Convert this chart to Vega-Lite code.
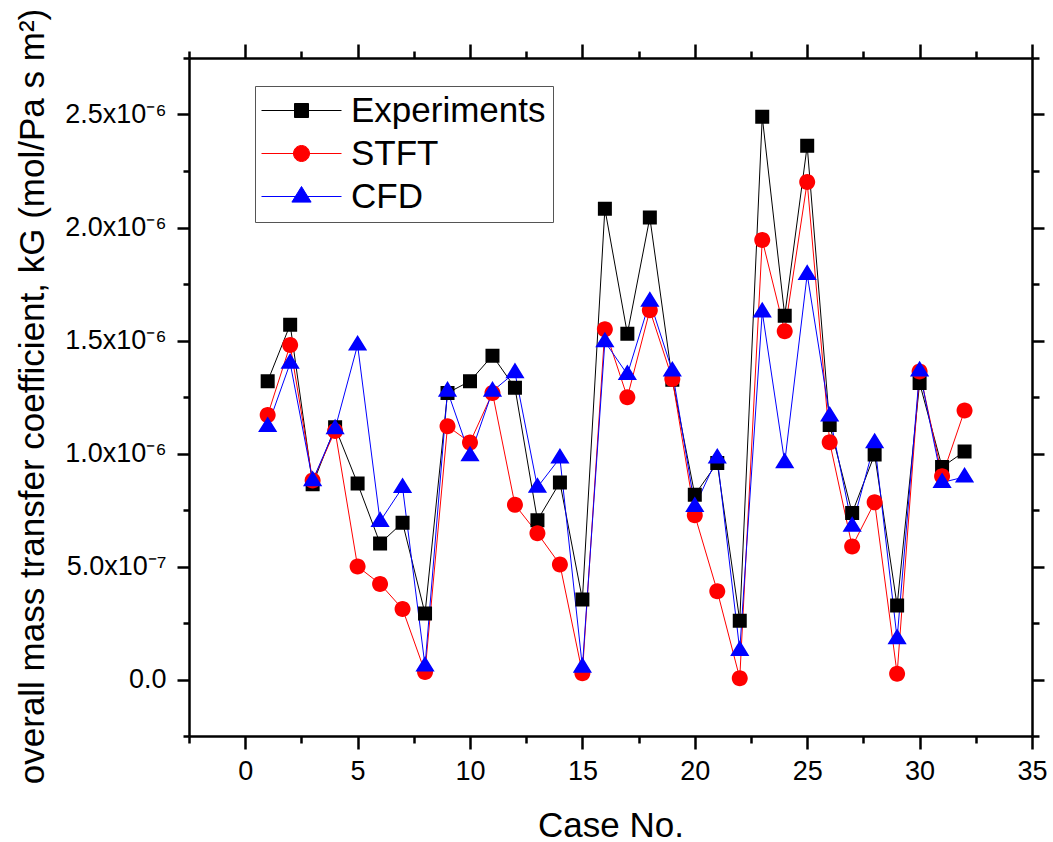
{
  "$schema": "https://vega.github.io/schema/vega-lite/v6.json",
  "width": 843,
  "height": 678,
  "autosize": {"type": "none"},
  "padding": {"left": 189, "top": 58, "right": 21, "bottom": 106},
  "background": "white",
  "config": {
    "view": {"stroke": null},
    "axis": {
      "grid": false,
      "domainColor": "black",
      "domainWidth": 2.5,
      "tickColor": "black",
      "tickWidth": 2.5,
      "labelFont": "Liberation Sans",
      "labelFontSize": 27,
      "labelColor": "black",
      "titleFont": "Liberation Sans",
      "titleFontSize": 35,
      "titleColor": "black",
      "titleFontWeight": "normal",
      "labelOverlap": false,
      "labelFlush": false,
      "labelBound": false
    }
  },
  "data": {
    "values": [
      {"case": 1, "series": "Experiments", "kG": 1.32e-6},
      {"case": 2, "series": "Experiments", "kG": 1.57e-6},
      {"case": 3, "series": "Experiments", "kG": 0.864e-6},
      {"case": 4, "series": "Experiments", "kG": 1.116e-6},
      {"case": 5, "series": "Experiments", "kG": 0.867e-6},
      {"case": 6, "series": "Experiments", "kG": 0.602e-6},
      {"case": 7, "series": "Experiments", "kG": 0.694e-6},
      {"case": 8, "series": "Experiments", "kG": 0.292e-6},
      {"case": 9, "series": "Experiments", "kG": 1.268e-6},
      {"case": 10, "series": "Experiments", "kG": 1.32e-6},
      {"case": 11, "series": "Experiments", "kG": 1.433e-6},
      {"case": 12, "series": "Experiments", "kG": 1.291e-6},
      {"case": 13, "series": "Experiments", "kG": 0.705e-6},
      {"case": 14, "series": "Experiments", "kG": 0.872e-6},
      {"case": 15, "series": "Experiments", "kG": 0.354e-6},
      {"case": 16, "series": "Experiments", "kG": 2.083e-6},
      {"case": 17, "series": "Experiments", "kG": 1.53e-6},
      {"case": 18, "series": "Experiments", "kG": 2.044e-6},
      {"case": 19, "series": "Experiments", "kG": 1.326e-6},
      {"case": 20, "series": "Experiments", "kG": 0.817e-6},
      {"case": 21, "series": "Experiments", "kG": 0.958e-6},
      {"case": 22, "series": "Experiments", "kG": 0.26e-6},
      {"case": 23, "series": "Experiments", "kG": 2.49e-6},
      {"case": 24, "series": "Experiments", "kG": 1.61e-6},
      {"case": 25, "series": "Experiments", "kG": 2.362e-6},
      {"case": 26, "series": "Experiments", "kG": 1.126e-6},
      {"case": 27, "series": "Experiments", "kG": 0.737e-6},
      {"case": 28, "series": "Experiments", "kG": 0.996e-6},
      {"case": 29, "series": "Experiments", "kG": 0.327e-6},
      {"case": 30, "series": "Experiments", "kG": 1.312e-6},
      {"case": 31, "series": "Experiments", "kG": 0.94e-6},
      {"case": 32, "series": "Experiments", "kG": 1.009e-6},
      {"case": 1, "series": "STFT", "kG": 1.17e-6},
      {"case": 2, "series": "STFT", "kG": 1.48e-6},
      {"case": 3, "series": "STFT", "kG": 0.88e-6},
      {"case": 4, "series": "STFT", "kG": 1.10e-6},
      {"case": 5, "series": "STFT", "kG": 0.50e-6},
      {"case": 6, "series": "STFT", "kG": 0.423e-6},
      {"case": 7, "series": "STFT", "kG": 0.312e-6},
      {"case": 8, "series": "STFT", "kG": 0.033e-6},
      {"case": 9, "series": "STFT", "kG": 1.121e-6},
      {"case": 10, "series": "STFT", "kG": 1.049e-6},
      {"case": 11, "series": "STFT", "kG": 1.268e-6},
      {"case": 12, "series": "STFT", "kG": 0.773e-6},
      {"case": 13, "series": "STFT", "kG": 0.647e-6},
      {"case": 14, "series": "STFT", "kG": 0.509e-6},
      {"case": 15, "series": "STFT", "kG": 0.028e-6},
      {"case": 16, "series": "STFT", "kG": 1.55e-6},
      {"case": 17, "series": "STFT", "kG": 1.249e-6},
      {"case": 18, "series": "STFT", "kG": 1.634e-6},
      {"case": 19, "series": "STFT", "kG": 1.33e-6},
      {"case": 20, "series": "STFT", "kG": 0.727e-6},
      {"case": 21, "series": "STFT", "kG": 0.391e-6},
      {"case": 22, "series": "STFT", "kG": 0.006e-6},
      {"case": 23, "series": "STFT", "kG": 1.945e-6},
      {"case": 24, "series": "STFT", "kG": 1.541e-6},
      {"case": 25, "series": "STFT", "kG": 2.201e-6},
      {"case": 26, "series": "STFT", "kG": 1.05e-6},
      {"case": 27, "series": "STFT", "kG": 0.589e-6},
      {"case": 28, "series": "STFT", "kG": 0.784e-6},
      {"case": 29, "series": "STFT", "kG": 0.025e-6},
      {"case": 30, "series": "STFT", "kG": 1.363e-6},
      {"case": 31, "series": "STFT", "kG": 0.899e-6},
      {"case": 32, "series": "STFT", "kG": 1.19e-6},
      {"case": 1, "series": "CFD", "kG": 1.12e-6},
      {"case": 2, "series": "CFD", "kG": 1.40e-6},
      {"case": 3, "series": "CFD", "kG": 0.88e-6},
      {"case": 4, "series": "CFD", "kG": 1.11e-6},
      {"case": 5, "series": "CFD", "kG": 1.48e-6},
      {"case": 6, "series": "CFD", "kG": 0.70e-6},
      {"case": 7, "series": "CFD", "kG": 0.85e-6},
      {"case": 8, "series": "CFD", "kG": 0.06e-6},
      {"case": 9, "series": "CFD", "kG": 1.276e-6},
      {"case": 10, "series": "CFD", "kG": 0.99e-6},
      {"case": 11, "series": "CFD", "kG": 1.276e-6},
      {"case": 12, "series": "CFD", "kG": 1.358e-6},
      {"case": 13, "series": "CFD", "kG": 0.851e-6},
      {"case": 14, "series": "CFD", "kG": 0.98e-6},
      {"case": 15, "series": "CFD", "kG": 0.055e-6},
      {"case": 16, "series": "CFD", "kG": 1.495e-6},
      {"case": 17, "series": "CFD", "kG": 1.35e-6},
      {"case": 18, "series": "CFD", "kG": 1.674e-6},
      {"case": 19, "series": "CFD", "kG": 1.365e-6},
      {"case": 20, "series": "CFD", "kG": 0.766e-6},
      {"case": 21, "series": "CFD", "kG": 0.98e-6},
      {"case": 22, "series": "CFD", "kG": 0.129e-6},
      {"case": 23, "series": "CFD", "kG": 1.627e-6},
      {"case": 24, "series": "CFD", "kG": 0.96e-6},
      {"case": 25, "series": "CFD", "kG": 1.793e-6},
      {"case": 26, "series": "CFD", "kG": 1.166e-6},
      {"case": 27, "series": "CFD", "kG": 0.678e-6},
      {"case": 28, "series": "CFD", "kG": 1.048e-6},
      {"case": 29, "series": "CFD", "kG": 0.181e-6},
      {"case": 30, "series": "CFD", "kG": 1.366e-6},
      {"case": 31, "series": "CFD", "kG": 0.872e-6},
      {"case": 32, "series": "CFD", "kG": 0.896e-6}
    ]
  },
  "layer": [
    {
      "mark": {"type": "line", "strokeWidth": 1},
      "encoding": {
        "x": {
          "field": "case",
          "type": "quantitative",
          "scale": {"domain": [-2.5, 35], "nice": false, "zero": false},
          "axis": {
            "orient": "bottom",
            "title": "Case No.",
            "values": [-2.5, 0, 2.5, 5, 7.5, 10, 12.5, 15, 17.5, 20, 22.5, 25, 27.5, 30, 32.5, 35],
            "labelExpr": "datum.value % 5 == 0 ? datum.label : ''",
            "tickSize": {"condition": {"test": "datum.value % 5 == 0", "value": 13}, "value": 7},
            "labelPadding": 9,
            "titleX": 421.5,
            "titleY": 100,
            "titleBaseline": "alphabetic",
            "titleAnchor": "middle"
          }
        },
        "y": {
          "field": "kG",
          "type": "quantitative",
          "scale": {"domain": [-2.5e-7, 2.75e-6], "nice": false, "zero": false},
          "axis": {
            "orient": "left",
            "title": "overall mass transfer coefficient, kG (mol/Pa s m²)",
            "values": [-2.5e-7, 0, 2.5e-7, 5e-7, 7.5e-7, 1e-6, 1.25e-6, 1.5e-6, 1.75e-6, 2e-6, 2.25e-6, 2.5e-6, 2.75e-6],
            "labelExpr": "round(datum.value*4e6) % 2 == 0 ? (datum.value == 0 ? '0.0' : (datum.value < 7e-7 ? '5.0x10⁻⁷' : format(datum.value*1e6, '.1f') + 'x10⁻⁶')) : ''",
            "tickSize": {"condition": {"test": "round(datum.value*4e6) % 2 == 0", "value": 12}, "value": 6},
            "labelPadding": 11,
            "titleAngle": -90,
            "titleX": -146,
            "titleY": 338,
            "titleAlign": "center",
            "titleBaseline": "alphabetic"
          }
        },
        "color": {
          "field": "series",
          "type": "nominal",
          "scale": {"domain": ["Experiments", "STFT", "CFD"], "range": ["#000000", "#ff0000", "#0000ff"]}
        }
      }
    },
    {
      "mark": {"type": "point", "filled": true, "opacity": 1, "size": 256},
      "encoding": {
        "x": {
          "field": "case",
          "type": "quantitative",
          "axis": {
            "orient": "top",
            "title": null,
            "labels": false,
            "values": [-2.5, 0, 2.5, 5, 7.5, 10, 12.5, 15, 17.5, 20, 22.5, 25, 27.5, 30, 32.5, 35],
            "tickSize": {"condition": {"test": "datum.value % 5 == 0", "value": 14}, "value": 7}
          }
        },
        "y": {
          "field": "kG",
          "type": "quantitative",
          "axis": {
            "orient": "right",
            "title": null,
            "labels": false,
            "values": [-2.5e-7, 0, 2.5e-7, 5e-7, 7.5e-7, 1e-6, 1.25e-6, 1.5e-6, 1.75e-6, 2e-6, 2.25e-6, 2.5e-6, 2.75e-6],
            "tickSize": {"condition": {"test": "round(datum.value*4e6) % 2 == 0", "value": 12}, "value": 7}
          }
        },
        "color": {
          "field": "series",
          "type": "nominal",
          "legend": {
            "orient": "none",
            "legendX": 66,
            "legendY": 28,
            "title": null,
            "padding": 7,
            "rowPadding": 7,
            "symbolOffset": 22,
            "labelOffset": 32,
            "labelFont": "Liberation Sans",
            "labelFontSize": 35,
            "labelColor": "black",
            "labelLimit": 400,
            "strokeColor": "#555555",
            "fillColor": "white",
            "symbolSize": 256,
            "symbolStrokeWidth": 1,
            "symbolOpacity": 1,
            "encode": {"symbols": {"update": {"fill": {"scale": "color", "field": "value"}, "stroke": {"scale": "color", "field": "value"}, "strokeWidth": {"value": 1}, "opacity": {"value": 1}}}}
          }
        },
        "shape": {
          "field": "series",
          "type": "nominal",
          "scale": {
            "domain": ["Experiments", "STFT", "CFD"],
            "range": [
              "M-5,0H5M-0.875,-0.875H0.875V0.875H-0.875Z",
              "M-5,0H5M1,0A1,1,0,1,1,-1,0A1,1,0,1,1,1,0Z",
              "M-5,0H5M0,-1.25L1.2,0.7L-1.2,0.7Z"
            ]
          },
          "legend": {
            "orient": "none",
            "legendX": 66,
            "legendY": 28,
            "title": null,
            "padding": 7,
            "rowPadding": 7,
            "symbolOffset": 22,
            "labelOffset": 32,
            "labelFont": "Liberation Sans",
            "labelFontSize": 35,
            "labelColor": "black",
            "labelLimit": 400,
            "strokeColor": "#555555",
            "fillColor": "white",
            "symbolSize": 256,
            "symbolStrokeWidth": 1,
            "symbolOpacity": 1,
            "encode": {"symbols": {"update": {"fill": {"scale": "color", "field": "value"}, "stroke": {"scale": "color", "field": "value"}, "strokeWidth": {"value": 1}, "opacity": {"value": 1}}}}
          }
        }
      }
    }
  ],
  "resolve": {"axis": {"x": "independent", "y": "independent"}}
}
